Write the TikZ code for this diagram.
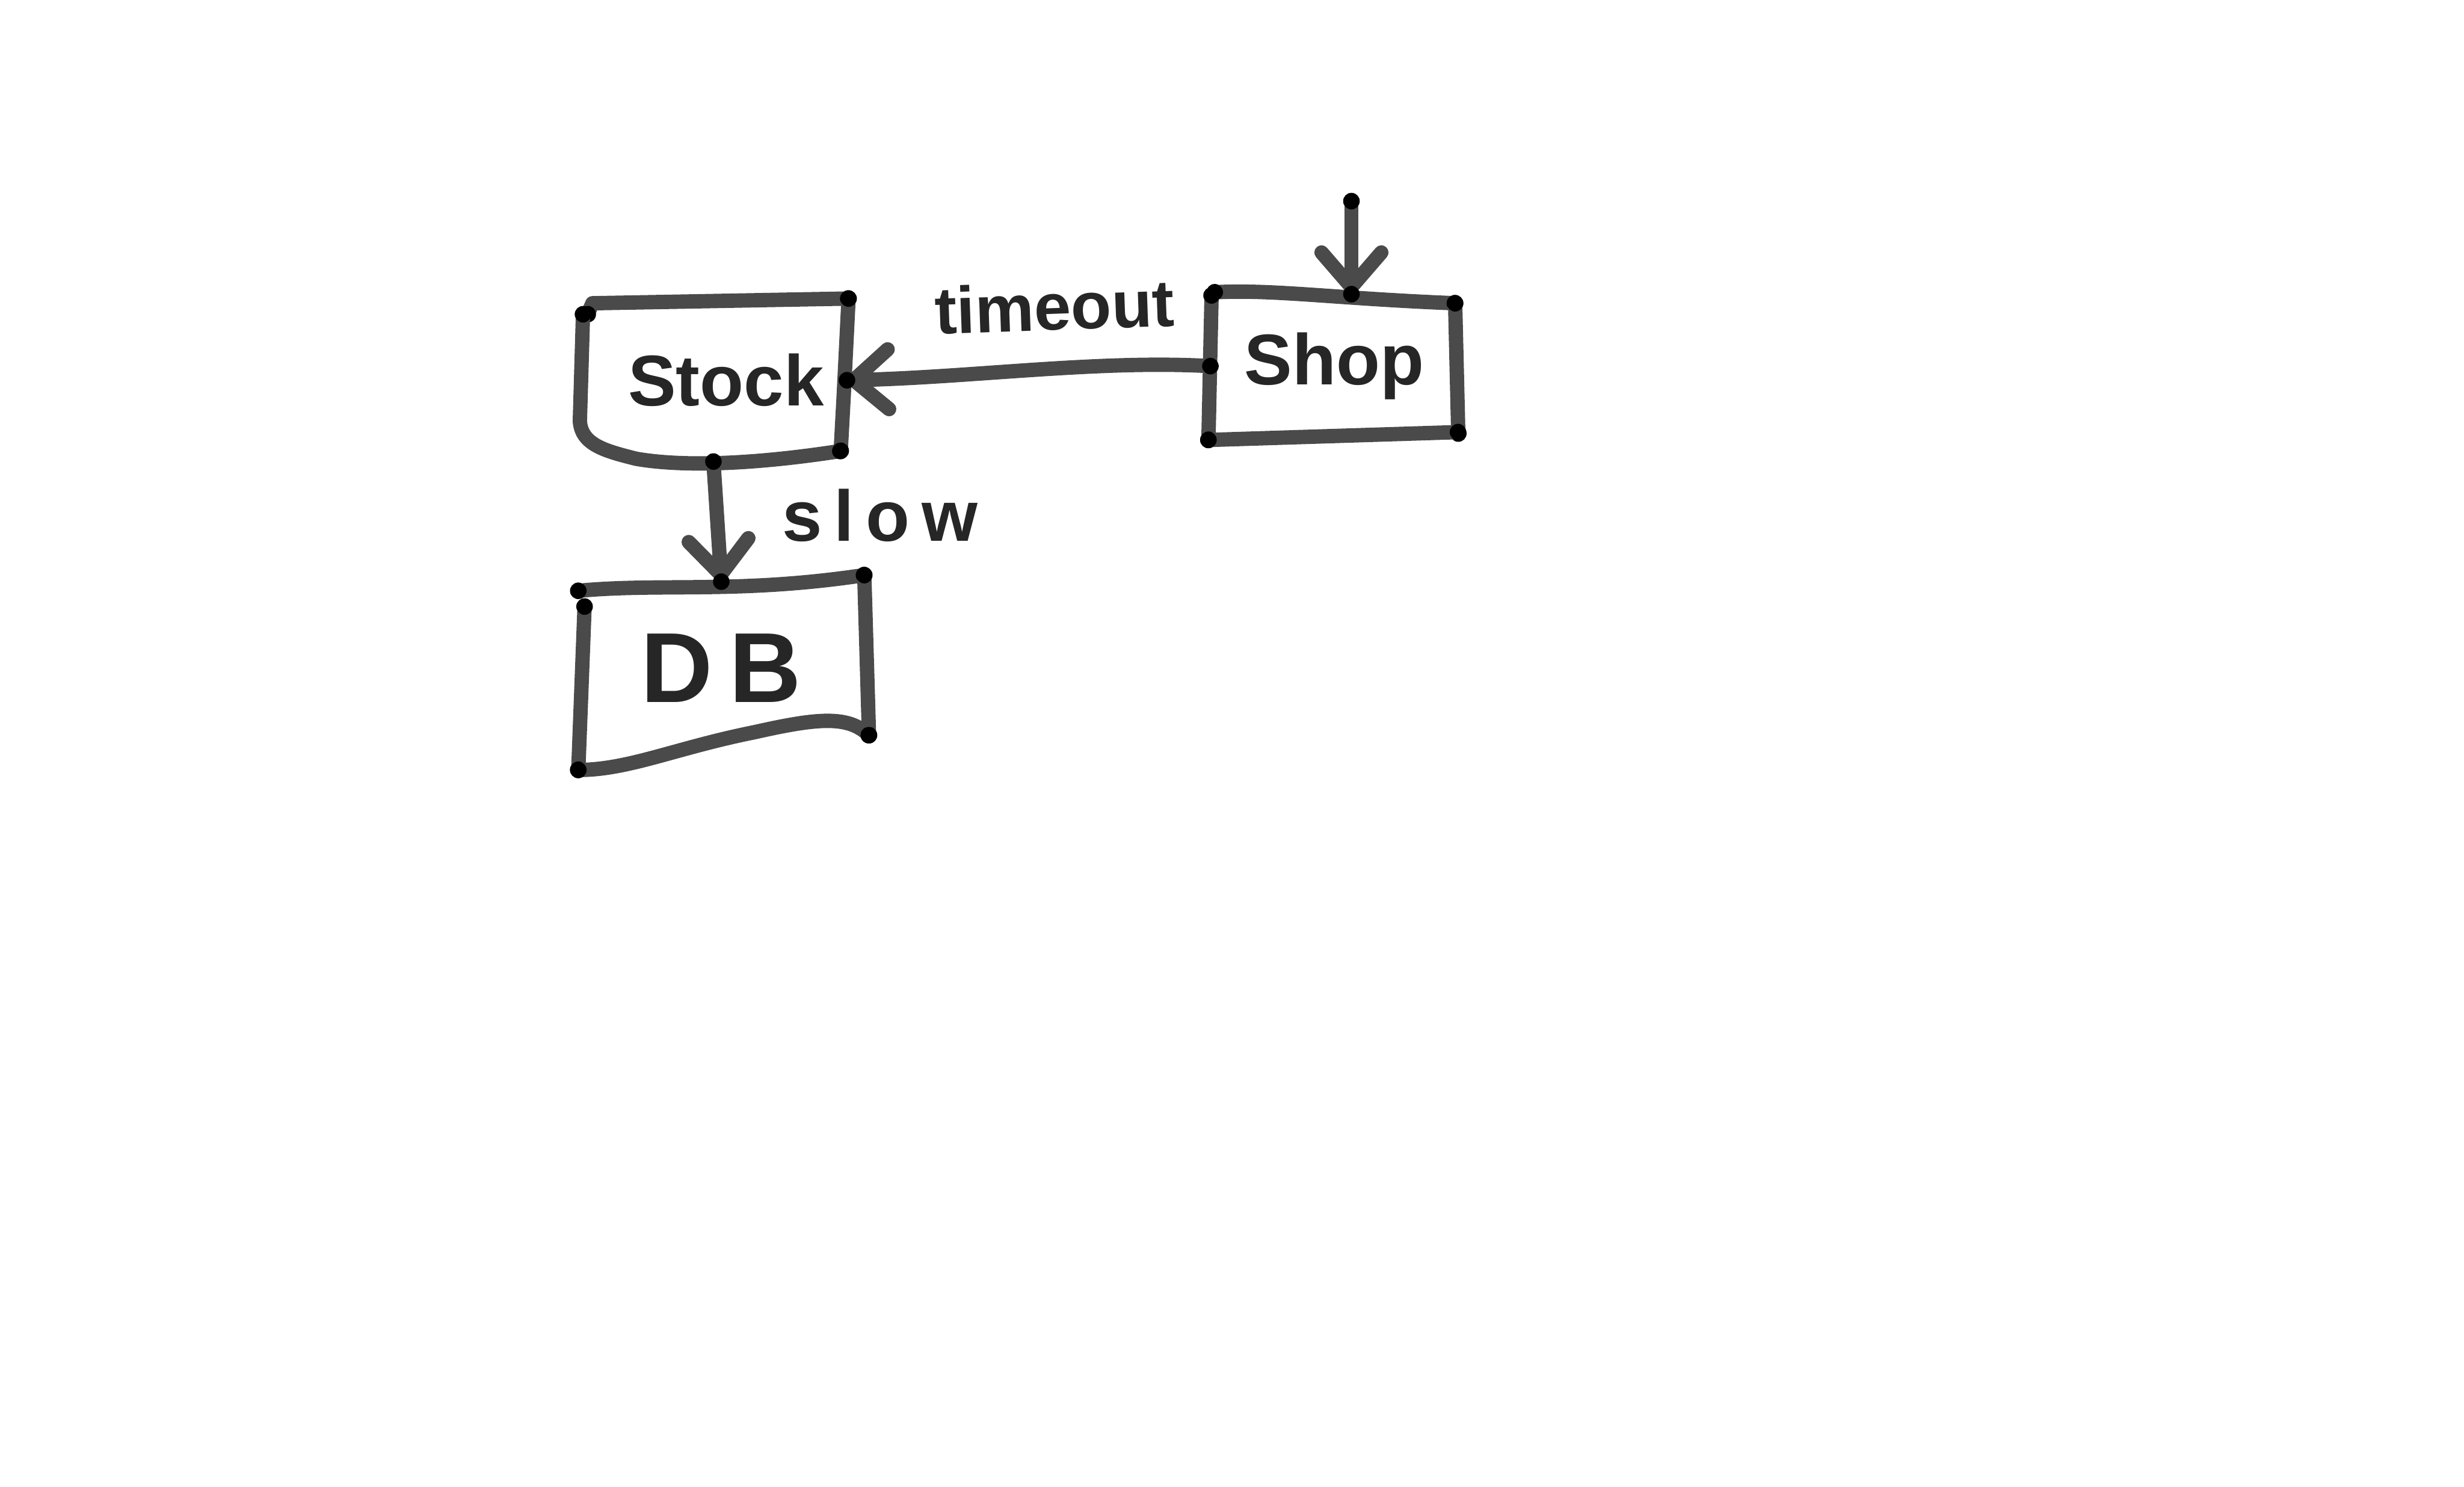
\documentclass[tikz,border=0pt]{standalone}
\usepackage{fontspec}
\setmainfont{Liberation Sans}
\usetikzlibrary{arrows.meta,decorations.markings}
\definecolor{penc}{HTML}{4A4A4A}
\tikzset{
  pen/.style={draw=penc,line width=2.6pt,line cap=round,line join=round},
  dotted ends/.style={postaction={decorate,decoration={markings,
     mark=at position 0 with {\fill[black] (0,0) circle (1.5pt);},
     mark=at position 0.999 with {\fill[black] (0,0) circle (1.5pt);}}}},
  tip/.style={-{Straight Barb[length=2.2mm,width=3.8mm,round]}},
  boxnode/.style={inner sep=0pt,font=\fontsize{13}{16}\selectfont\bfseries,text=black!85},
  lbl/.style={inner sep=1pt,font=\fontsize{12}{15}\selectfont\bfseries,text=black!85}
}
\begin{document}
\begin{tikzpicture}[x=0.01cm,y=-0.01cm]
\useasboundingbox (0,0) rectangle (1568,946);
\fill[white] (0,0) rectangle (1568,946);
% nodes
\node[boxnode,minimum width=1.68cm,minimum height=1.02cm] (stock) at (454,242) {\hspace{0.16cm}Stock};
\node[boxnode,minimum width=1.56cm,minimum height=0.90cm] (shop) at (849,233) {Shop};
\node[boxnode,minimum width=1.84cm,minimum height=1.08cm,font=\fontsize{18}{22}\selectfont\bfseries] (db) at (459,425) {D\,B};
\node[lbl,rotate=2] (timeout) at (671,195) {timeout};
\node[lbl,font=\fontsize{13}{16}\selectfont\bfseries] (slow) at (560,328) {s\,l\,o\,w};
\coordinate (topin) at (860,128);
% Stock outline
\draw[pen,dotted ends] (374,200) -- (377,193) -- (540,190);
\draw[pen,dotted ends] (540,190) -- (537,250) -- (535,287);
\draw[pen,dotted ends] (371,200) -- (369,268) .. controls (370,283) and (385,287) .. (405,292) .. controls (440,298) and (490,294) .. (535,287);
% Shop outline
\draw[pen,dotted ends] (773,186) .. controls (810,184) and (850,190) .. (926,193);
\draw[pen,dotted ends] (926,193) -- (928,276);
\draw[pen,dotted ends] (771,188) -- (769,280);
\draw[pen,dotted ends] (769,280) -- (928,275);
% DB outline
\draw[pen,dotted ends] (368,376) .. controls (420,371) and (470,378) .. (550,366);
\draw[pen,dotted ends] (372,386) -- (368,490);
\draw[pen,dotted ends] (550,366) -- (553,468);
\draw[pen,dotted ends] (368,490) .. controls (400,490) and (430,476) .. (480,466) .. controls (520,457) and (540,455) .. (553,468);
% connectors
\draw[pen,tip,dotted ends] (shop.west) .. controls (700,229) and (620,240) .. (stock.east);
\draw[pen,tip,dotted ends] (topin) -- (topin |- shop.north);
\draw[pen,tip,dotted ends] (stock.south) -- (db.north);
\end{tikzpicture}
\end{document}
